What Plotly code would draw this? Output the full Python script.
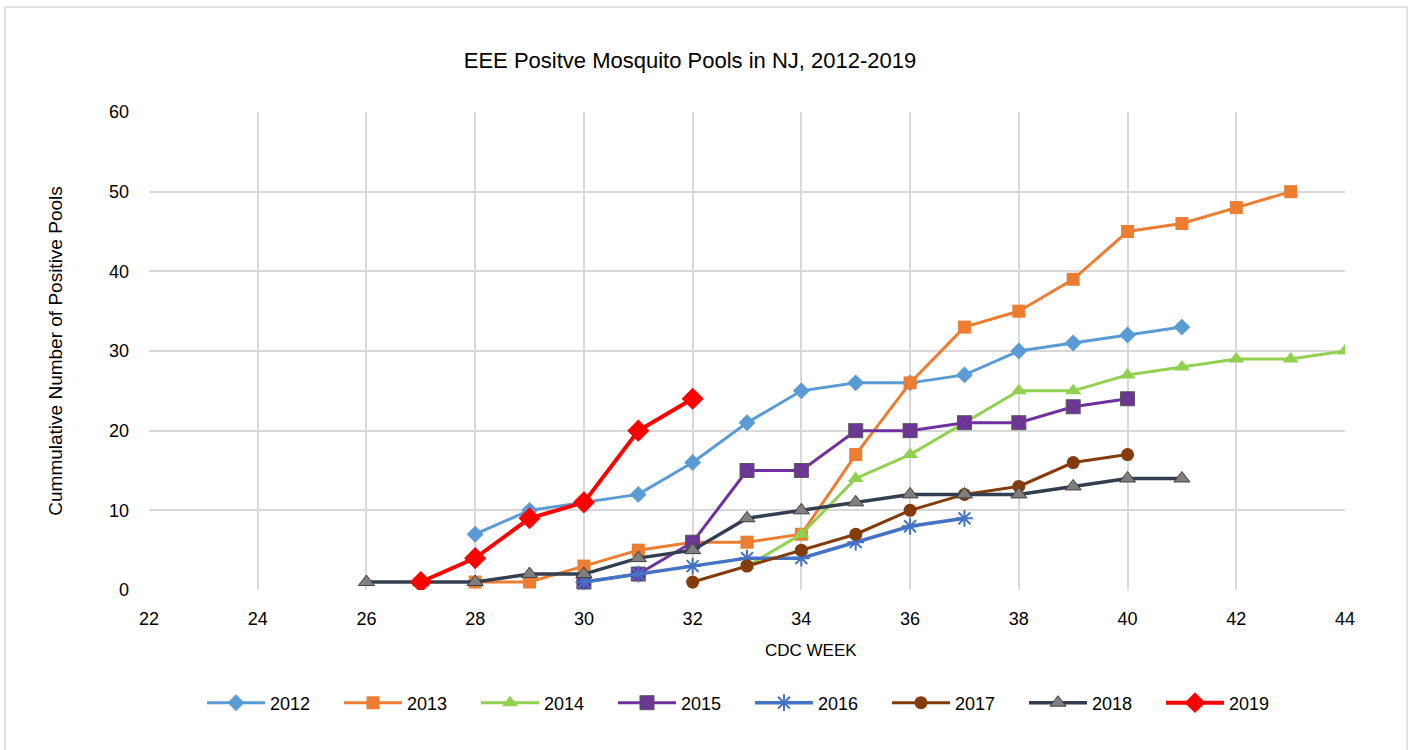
import plotly.graph_objects as go

weeks_2012 = [28, 29, 30, 31, 32, 33, 34, 35, 36, 37, 38, 39, 40, 41]
vals_2012 = [7, 10, 11, 12, 16, 21, 25, 26, 26, 27, 30, 31, 32, 33]
weeks_2013 = [28, 29, 30, 31, 32, 33, 34, 35, 36, 37, 38, 39, 40, 41, 42, 43]
vals_2013 = [1, 1, 3, 5, 6, 6, 7, 17, 26, 33, 35, 39, 45, 46, 48, 50]
weeks_2014 = [33, 34, 35, 36, 37, 38, 39, 40, 41, 42, 43, 44]
vals_2014 = [3, 7, 14, 17, 21, 25, 25, 27, 28, 29, 29, 30]
weeks_2015 = [30, 31, 32, 33, 34, 35, 36, 37, 38, 39, 40]
vals_2015 = [1, 2, 6, 15, 15, 20, 20, 21, 21, 23, 24]
weeks_2016 = [30, 31, 32, 33, 34, 35, 36, 37]
vals_2016 = [1, 2, 3, 4, 4, 6, 8, 9]
weeks_2017 = [32, 33, 34, 35, 36, 37, 38, 39, 40]
vals_2017 = [1, 3, 5, 7, 10, 12, 13, 16, 17]
weeks_2018 = [26, 27, 28, 29, 30, 31, 32, 33, 34, 35, 36, 37, 38, 39, 40, 41]
vals_2018 = [1, 1, 1, 2, 2, 4, 5, 9, 10, 11, 12, 12, 12, 13, 14, 14]
weeks_2019 = [27, 28, 29, 30, 31, 32]
vals_2019 = [1, 4, 9, 11, 20, 24]

x_ticks = list(range(22, 45, 2))
y_ticks = list(range(0, 61, 10))

FONT = "Liberation Sans"

series = [
    ("2012", weeks_2012, vals_2012, "#5B9BD5", "diamond", 13, "#5B9BD5", 0, 3),
    ("2013", weeks_2013, vals_2013, "#ED7D31", "square", 13, "#ED7D31", 0, 3),
    ("2014", weeks_2014, vals_2014, "#92D050", "triangle-up", 14, "#92D050", 0, 3),
    ("2015", weeks_2015, vals_2015, "#7030A0", "square-x", 14, "#595959", 1, 3),
    ("2016", weeks_2016, vals_2016, "#4472C4", "asterisk-open", 14, "#4472C4", 2, 3.5),
    ("2017", weeks_2017, vals_2017, "#843C0C", "circle", 13, "#843C0C", 0, 3),
    ("2018", weeks_2018, vals_2018, "#333F50", "triangle-up", 14, "#404040", 1, 3.5),
    ("2019", weeks_2019, vals_2019, "#FF0000", "diamond", 17, "#FF0000", 0, 4),
]

fig = go.Figure()
for name, xs, ys, color, sym, size, lcol, lw, width in series:
    mcolor = "#7F7F7F" if name == "2018" else color
    fig.add_trace(go.Scatter(
        x=xs, y=ys, name=name, mode="lines+markers",
        line=dict(color=color, width=width),
        marker=dict(symbol=sym, size=size, color=mcolor,
                    line=dict(color=lcol, width=lw)),
    ))

fig.update_layout(
    width=1413, height=750,
    paper_bgcolor="white", plot_bgcolor="white",
    margin=dict(l=149, r=68, t=112, b=160),
    font=dict(family=FONT, color="#000000"),
    title=dict(text="EEE Positve Mosquito Pools in NJ, 2012-2019",
               x=690 / 1413, xanchor="center", xref="container",
               y=1 - 60 / 750, yanchor="middle",
               font=dict(family=FONT, size=22, color="#000000")),
    xaxis=dict(range=[22, 44], tickvals=x_ticks, showgrid=True,
               gridcolor="#D9D9D9", gridwidth=1.5, zeroline=False,
               showline=False, ticks="", ticklabelstandoff=16,
               tickfont=dict(size=18, color="#000000")),
    yaxis=dict(range=[0, 60], tickvals=y_ticks, showgrid=True,
               gridcolor="#D9D9D9", gridwidth=1.5, zeroline=False,
               showline=False, ticks="", ticklabelstandoff=19,
               tickfont=dict(size=18, color="#000000"),
               title=dict(text="Cummulative Number of Positive Pools",
                          font=dict(size=19), standoff=41)),
    legend=dict(orientation="h", x=(750 - 149) / 1196, xanchor="center",
                y=(590 - 703) / 478, yanchor="middle",
                itemwidth=58,
                entrywidth=64, entrywidthmode="pixels",
                font=dict(size=18), itemsizing="trace"),
    showlegend=True,
)

# x axis title (offset to the right as in the reference)
fig.add_annotation(text="CDC WEEK", xref="paper", yref="paper",
                   x=(811 - 149) / 1196, y=(590 - 650) / 478,
                   xanchor="center", yanchor="middle", showarrow=False,
                   font=dict(size=17, color="#000000"))

# outer chart border
fig.add_shape(type="rect", xref="paper", yref="paper",
              x0=(5 - 149) / 1196, x1=(1407 - 149) / 1196,
              y0=(590 - 760) / 478, y1=(590 - 7) / 478,
              line=dict(color="#D9D9D9", width=1.5), layer="below")

fig.write_html("out.html", config={"displayModeBar": False},
               post_script="document.body.style.margin='0px';")
